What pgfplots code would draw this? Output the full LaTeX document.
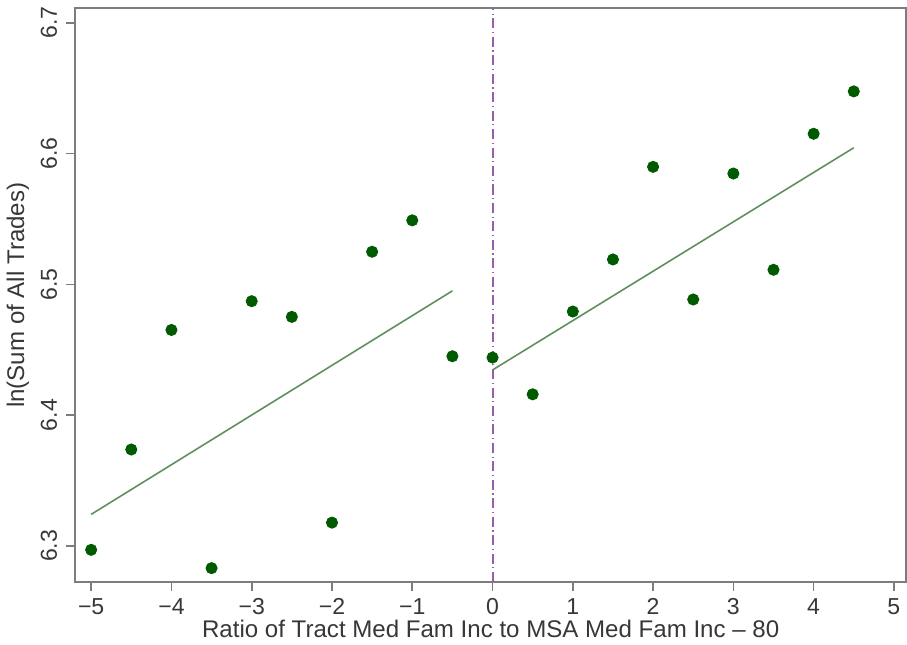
\documentclass[border=0pt]{standalone}
\usepackage{fontspec}
\setmainfont{Liberation Sans}
\usepackage{pgfplots}
\pgfplotsset{compat=1.18}

\definecolor{axisgray}{RGB}{125,125,125}
\definecolor{txtgray}{RGB}{55,55,55}
\definecolor{dotgreen}{RGB}{0,90,0}
\definecolor{fitgreen}{RGB}{95,145,95}
\definecolor{cutpurple}{RGB}{150,95,170}

\begin{document}
\begin{tikzpicture}
\begin{axis}[
    width=414pt, height=286pt,
    scale only axis,
    xmin=-5.197, xmax=5.15,
    ymin=6.2723, ymax=6.711,
    xtick={-5,-4,...,5},
    xticklabels={−5,−4,−3,−2,−1,0,1,2,3,4,5},
    ytick={6.3,6.4,6.5,6.6,6.7},
    yticklabels={6.3,6.4,6.5,6.6,6.7},
    tick align=outside,
    major tick length=4.5pt,
    tick style={axisgray, line width=0.8pt},
    axis line style={axisgray, line width=1pt},
    xtick pos=bottom, ytick pos=left,
    ticklabel style={font=\fontsize{11.5}{13}\selectfont, text=txtgray},
    yticklabel style={rotate=90, anchor=south, yshift=1pt},
    xlabel={Ratio of Tract Med Fam Inc to MSA Med Fam Inc – 80},
    ylabel={ln(Sum of All Trades)},
    label style={font=\fontsize{12}{14}\selectfont, text=txtgray},
    xlabel style={yshift=4pt},
    ylabel style={yshift=-1pt},
    clip=false,
]
% cutoff line
\addplot[cutpurple, line width=1pt, dash pattern=on 5pt off 1.8pt on 0.6pt off 1.8pt]
    coordinates {(0,6.2723) (0,6.711)};
% fitted lines
\addplot[fitgreen, line width=0.8pt] coordinates {(-5,6.3241) (-0.5,6.495)};
\addplot[fitgreen, line width=0.8pt] coordinates {(0,6.4345) (4.5,6.6044)};
% binned means
\addplot[only marks, mark=*, mark size=2.8pt, dotgreen, mark options={draw=dotgreen, fill=dotgreen}]
coordinates {
    (-5,6.297) (-4.5,6.3737) (-4,6.4651) (-3.5,6.283) (-3,6.4871)
    (-2.5,6.4751) (-2,6.3178) (-1.5,6.5249) (-1,6.5489) (-0.5,6.445)
    (0,6.444) (0.5,6.4159) (1,6.4792) (1.5,6.519) (2,6.5898)
    (2.5,6.4884) (3,6.5847) (3.5,6.5111) (4,6.6151) (4.5,6.6475)
};
\end{axis}
\end{tikzpicture}
\end{document}
